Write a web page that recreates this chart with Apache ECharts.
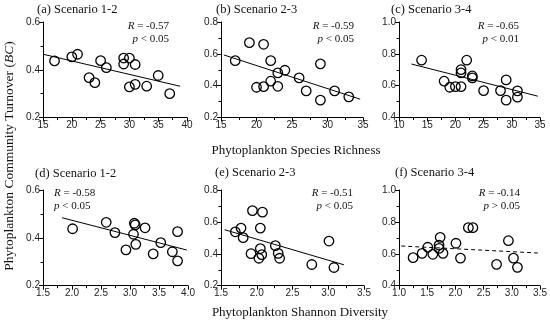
<!DOCTYPE html>
<html><head><meta charset="utf-8">
<script src="https://cdn.jsdelivr.net/npm/echarts@6/dist/echarts.min.js"></script>
<style>html,body{margin:0;padding:0;background:#fff}#c{width:550px;height:328px}</style>
</head><body><div id="c"></div>
<script>
// ---- data ----
const a_x = [17,20,21,23,24,25,26,29,29,30,31,30,31,33,35,37];
const a_y = [0.437,0.454,0.465,0.367,0.346,0.438,0.409,0.449,0.424,0.449,0.422,0.328,0.339,0.331,0.376,0.300];
const a_fitX = [15,38.8], a_fitY = [0.465,0.331];

const b_x = [17,19,21,22,20,21,22,23,23,24,26,27,29,29,31,33];
const b_y = [0.557,0.670,0.660,0.557,0.390,0.394,0.428,0.480,0.396,0.497,0.449,0.367,0.537,0.309,0.367,0.330];
const b_fitX = [15.4,34.6], b_fitY = [0.593,0.315];

const c_x = [14,18,19,20,21,21,21,22,23,23,25,28,29,29,31,31];
const c_y = [0.760,0.628,0.590,0.594,0.594,0.701,0.680,0.760,0.661,0.649,0.569,0.569,0.636,0.509,0.567,0.528];
const c_fitX = [12.2,34.6], c_fitY = [0.736,0.534];

const d_x = [2.01,2.59,2.74,2.93,3.075,3.09,3.06,3.10,3.26,3.40,3.53,3.73,3.82,3.82];
const d_y = [0.438,0.465,0.422,0.350,0.461,0.454,0.415,0.373,0.442,0.333,0.380,0.342,0.426,0.304];
const d_fitX = [1.83,3.98], d_fitY = [0.484,0.349];

const e_x = [1.70,1.78,1.81,1.94,2.08,2.05,1.92,2.05,2.03,2.07,2.26,2.30,2.32,2.77,3.01,3.08];
const e_y = [0.538,0.561,0.501,0.671,0.661,0.561,0.401,0.433,0.372,0.395,0.451,0.403,0.372,0.333,0.480,0.314];
const e_fitX = [1.55,3.22], e_fitY = [0.551,0.331];

const f_x = [1.25,1.41,1.51,1.60,1.71,1.71,1.73,1.78,2.01,2.09,2.23,2.31,2.73,2.94,3.03,3.10];
const f_y = [0.576,0.603,0.641,0.597,0.634,0.655,0.703,0.603,0.666,0.573,0.764,0.764,0.534,0.682,0.573,0.515];
const f_fitX = [1.04,3.46], f_fitY = [0.649,0.605];

const panelTitles = ['(a) Scenario 1-2','(b) Scenario 2-3','(c) Scenario 3-4','(d) Scenario 1-2','(e) Scenario 2-3','(f) Scenario 3-4'];
const rValues = ['-0.57','-0.59','-0.65','-0.58','-0.51','-0.14'];
const pValues = ['< 0.05','< 0.05','< 0.01','< 0.05','< 0.05','> 0.05'];
const xRanges = [[15,40,5],[15,35,5],[10,35,5],[1.5,4.0,0.5],[1.5,3.5,0.5],[1.0,3.5,0.5]];
const yRanges = [[0.2,0.6,0.2],[0.2,0.8,0.2],[0.4,1.0,0.2],[0.2,0.6,0.2],[0.2,0.8,0.2],[0.4,1.0,0.2]];
const xDecimals = [0,0,0,1,1,1];
const yTitle = 'Phytoplankton Community Turnover ';
const xTitleTop = 'Phytoplankton Species Richness';
const xTitleBottom = 'Phytoplankton Shannon Diversity';

const pts = [[a_x,a_y],[b_x,b_y],[c_x,c_y],[d_x,d_y],[e_x,e_y],[f_x,f_y]];
const fits = [[a_fitX,a_fitY],[b_fitX,b_fitY],[c_fitX,c_fitY],[d_fitX,d_fitY],[e_fitX,e_fitY],[f_fitX,f_fitY]];

// ---- layout ----
const grids = [
  {left:43, top:22, width:144, height:95.5},
  {left:221, top:22, width:142, height:95.5},
  {left:399, top:22, width:141, height:95.5},
  {left:43, top:190, width:145, height:95.7},
  {left:221, top:190, width:143, height:95.7},
  {left:399, top:190, width:141, height:95.7}
];
const titlePos = [[37,10],[216,10],[391,10],[35,174],[215,173],[395,173]];
const rPos = [[169,26],[354,26],[519,26],[54,193],[353,193],[520,193]];
const rAlign = ['right','right','right','left','right','right'];

const serif = '"Liberation Serif","Times New Roman",serif';
const sans = '"Liberation Sans",Arial,sans-serif';

const xAxes = [], yAxes = [], series = [], graphics = [];
for (let i = 0; i < 6; i++) {
  const axCommon = {
    gridIndex: i,
    axisLine: {lineStyle: {color: '#000', width: 1}},
    axisTick: {length: 4, lineStyle: {color: '#000'}},
    minorTick: {show: true, splitNumber: 2, length: 2.5, lineStyle: {color: '#000'}},
    splitLine: {show: false},
    axisLabel: {fontFamily: sans, fontSize: 10, color: '#222', margin: 3}
  };
  xAxes.push(Object.assign({}, axCommon, {
    type: 'value', min: xRanges[i][0], max: xRanges[i][1], interval: xRanges[i][2],
    axisLabel: Object.assign({}, axCommon.axisLabel, {formatter: v => (+v).toFixed(xDecimals[i])})
  }));
  yAxes.push(Object.assign({}, axCommon, {
    type: 'value', min: yRanges[i][0], max: yRanges[i][1], interval: yRanges[i][2],
    axisLabel: Object.assign({}, axCommon.axisLabel, {formatter: v => (+v).toFixed(1)})
  }));
  series.push({
    type: 'line', xAxisIndex: i, yAxisIndex: i, showSymbol: false, silent: true,
    data: fits[i][0].map((x, k) => [x, fits[i][1][k]]),
    lineStyle: {color: '#000', width: 1, type: i === 5 ? [4, 3] : 'solid'}, z: 2
  });
  series.push({
    type: 'scatter', xAxisIndex: i, yAxisIndex: i, symbol: 'circle', symbolSize: 9.5,
    data: pts[i][0].map((x, k) => [x, pts[i][1][k]]),
    itemStyle: {color: 'rgba(0,0,0,0)', borderColor: '#000', borderWidth: 1.3, opacity: 1}, z: 3
  });
  graphics.push({
    type: 'text', x: titlePos[i][0], y: titlePos[i][1],
    style: {text: panelTitles[i], font: '12.5px ' + serif, fill: '#111', verticalAlign: 'middle'}
  });
  graphics.push({
    type: 'text', x: rPos[i][0], y: rPos[i][1] - 7,
    style: {
      text: '{i|R} = ' + rValues[i] + '\n{i|p} ' + pValues[i],
      fontFamily: serif, fontSize: 11, fill: '#111', align: rAlign[i], verticalAlign: 'top',
      lineHeight: 13.5,
      rich: {i: {fontStyle: 'italic', fontFamily: serif, fontSize: 11, fill: '#111'}}
    }
  });
}

graphics.push({
  type: 'text', x: 9, y: 156, rotation: Math.PI / 2,
  style: {
    text: yTitle + '({i|BC})', fontFamily: serif, fontSize: 13.5, fill: '#111',
    align: 'center', verticalAlign: 'middle',
    rich: {i: {fontStyle: 'italic', fontFamily: serif, fontSize: 13.5, fill: '#111'}}
  }
});
graphics.push({type: 'text', x: 296, y: 151, style: {text: xTitleTop, font: '13px ' + serif, fill: '#111', align: 'center', verticalAlign: 'middle'}});
graphics.push({type: 'text', x: 300, y: 313, style: {text: xTitleBottom, font: '13px ' + serif, fill: '#111', align: 'center', verticalAlign: 'middle'}});

const chart = echarts.init(document.getElementById('c'), null, {renderer: 'canvas'});
chart.setOption({
  animation: false,
  backgroundColor: '#fff',
  grid: grids,
  xAxis: xAxes,
  yAxis: yAxes,
  series: series,
  graphic: graphics
});
</script></body></html>
